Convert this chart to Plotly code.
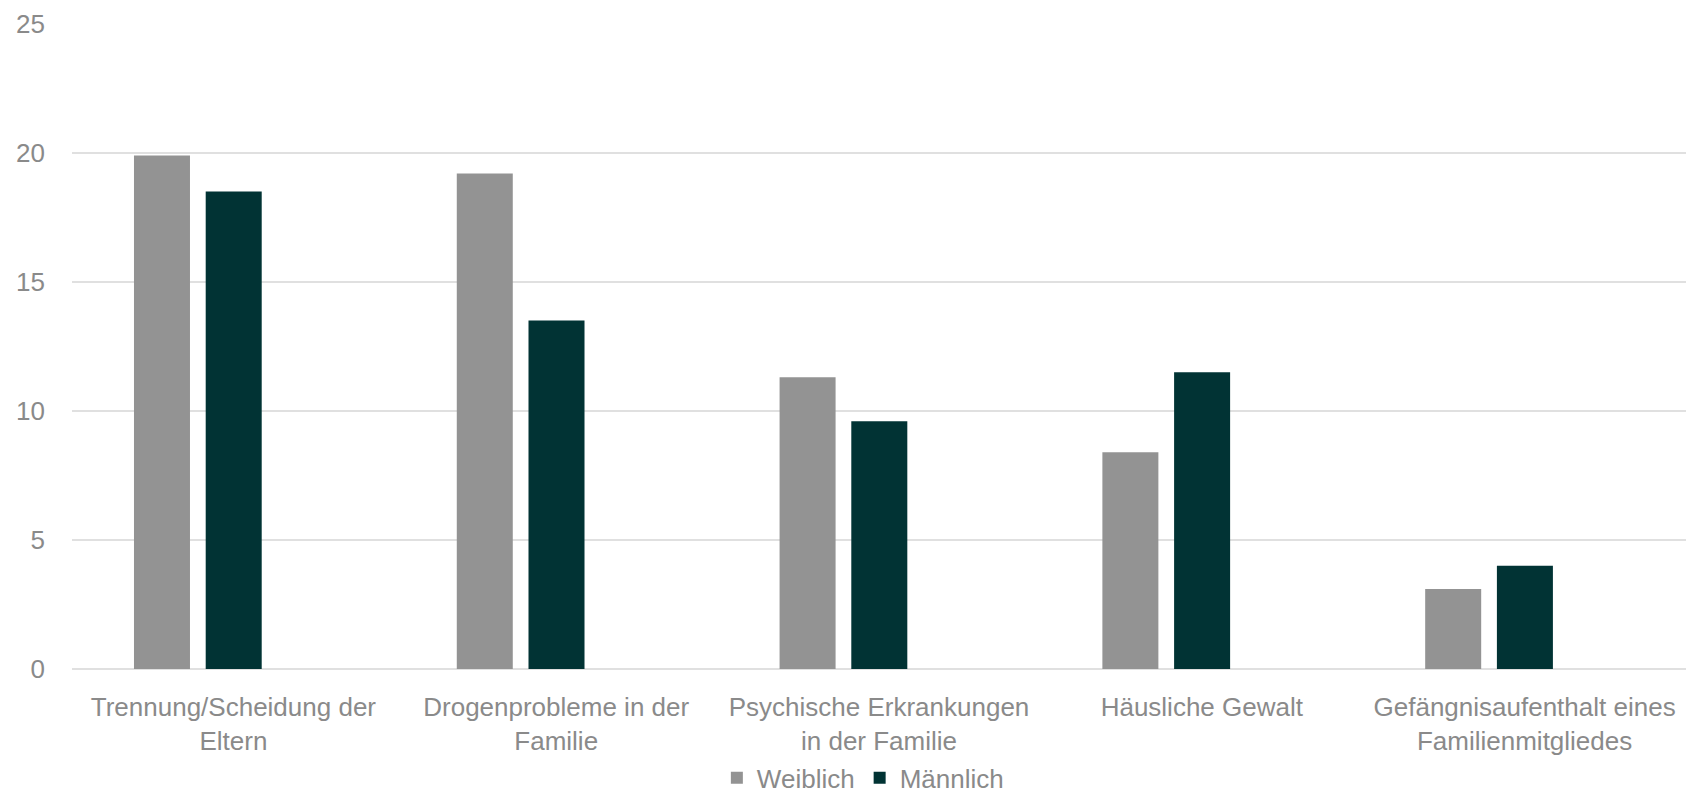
import plotly.graph_objects as go

categories = [
    "Trennung/Scheidung der<br>Eltern",
    "Drogenprobleme in der<br>Familie",
    "Psychische Erkrankungen<br>in der Familie",
    "Häusliche Gewalt",
    "Gefängnisaufenthalt eines<br>Familienmitgliedes",
]
weiblich = [19.9, 19.2, 11.3, 8.4, 3.1]
maennlich = [18.5, 13.5, 9.6, 11.5, 4.0]
y_ticks = [0, 5, 10, 15, 20, 25]

FONT = "Liberation Sans, Arial, sans-serif"
TXT = "#8a8a8a"
FS = 26

fig = go.Figure()
fig.add_trace(go.Bar(x=categories, y=weiblich, name="Weiblich",
                     marker=dict(color="#939393", line=dict(width=0)),
                     width=0.1735, offset=-0.308))
fig.add_trace(go.Bar(x=categories, y=maennlich, name="Männlich",
                     marker=dict(color="#013334", line=dict(width=0)),
                     width=0.1735, offset=-0.0858))

fig.update_layout(
    width=1686, height=793,
    margin=dict(l=72, r=0, t=23, b=124, autoexpand=False),
    paper_bgcolor="white", plot_bgcolor="white",
    font=dict(family=FONT, size=FS, color=TXT),
    barmode="group",
    showlegend=True,
    legend=dict(orientation="h", x=0.49, xanchor="center",
                yref="container", y=0.019, yanchor="middle",
                font=dict(family=FONT, size=FS, color=TXT), itemwidth=30,
                bgcolor="rgba(0,0,0,0)"),
)
fig.update_yaxes(range=[0, 25.03], tickvals=y_ticks, showgrid=True, gridcolor="#e0e0e0",
                 gridwidth=1.5, zeroline=True, zerolinecolor="#e0e0e0", zerolinewidth=1.5,
                 showline=False, ticks="", ticklabelstandoff=26, automargin=False,
                 tickfont=dict(family=FONT, size=FS, color=TXT))
fig.update_xaxes(showgrid=False, showline=False, ticks="", ticklabelstandoff=20,
                 tickangle=0, automargin=False,
                 tickfont=dict(family=FONT, size=FS, color=TXT))

fig.write_html("out.html")
